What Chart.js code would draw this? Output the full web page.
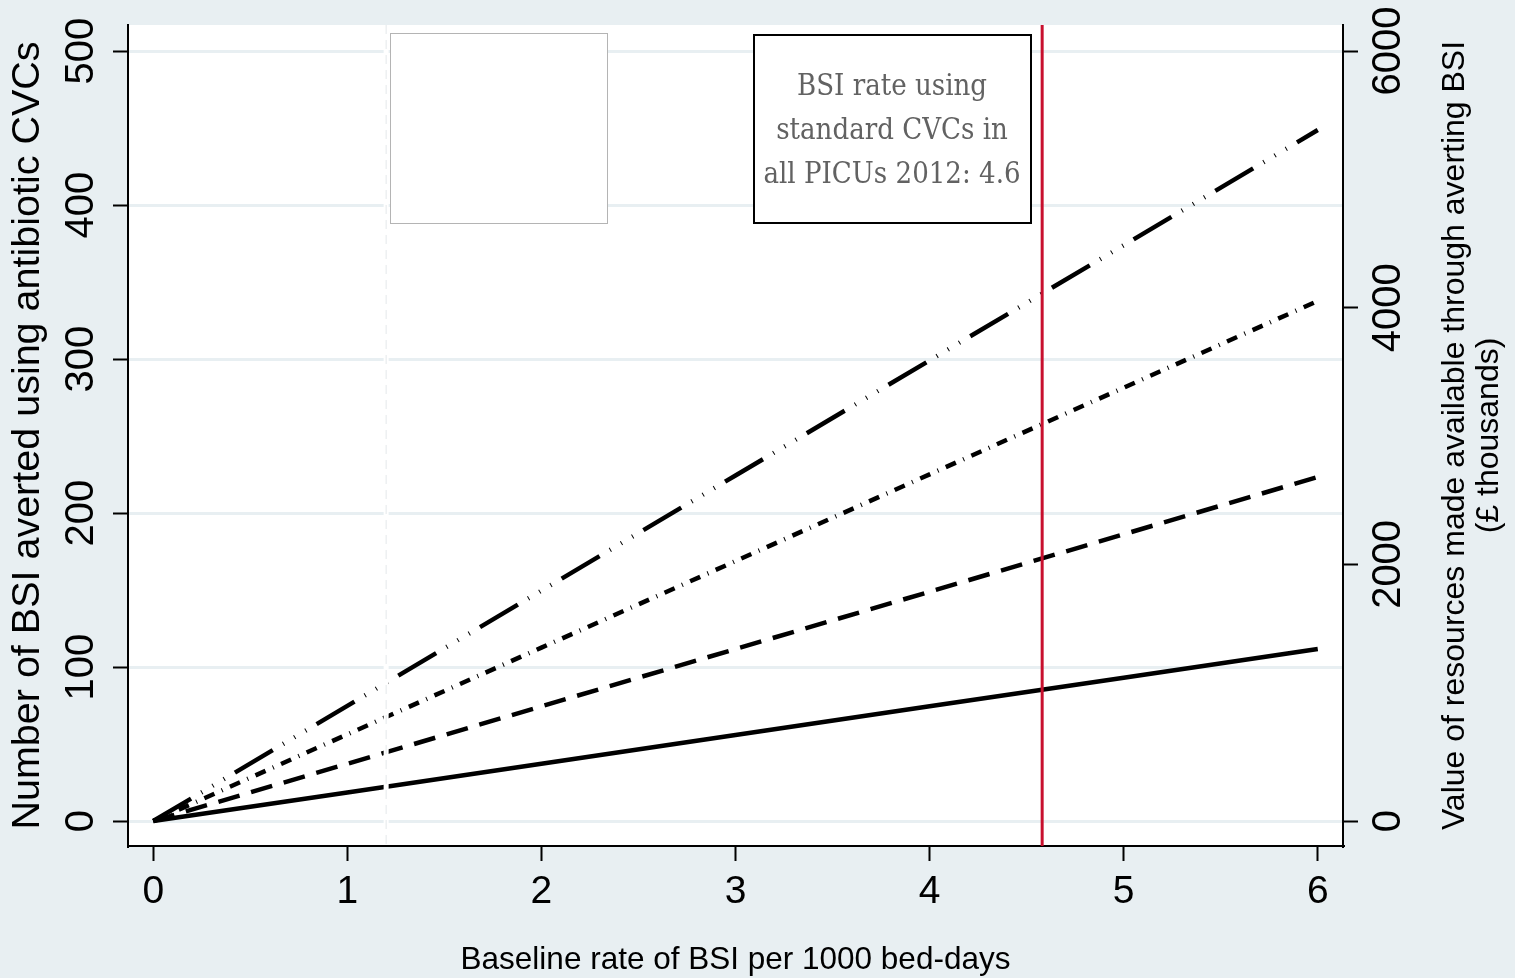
<!DOCTYPE html>
<html>
<head>
<meta charset="utf-8">
<script src="https://cdn.jsdelivr.net/npm/chart.js@4/dist/chart.umd.min.js"></script>
<style>
  body { margin: 0; background: #e8eff2; }
  canvas { display: block; }
</style>
</head>
<body>
<canvas id="bsiChart" width="1515" height="978"></canvas>
<script>
// values
const baselineRate = [0, 1, 2, 3, 4, 5, 6];
const avertedSolid = [0, 18.6, 37.2, 55.9, 74.5, 93.1, 111.7];
const avertedDash = [0, 37.2, 74.5, 111.7, 148.9, 186.2, 223.4];
const avertedDashDot = [0, 56.3, 112.6, 168.8, 225.1, 281.4, 337.7];
const avertedLongDash = [0, 74.8, 149.6, 224.4, 299.1, 373.9, 448.7];

const xTicks = [0, 1, 2, 3, 4, 5, 6];
const leftTicks = [0, 100, 200, 300, 400, 500];
const rightTicks = [0, 2000, 4000, 6000];

const picuRate = 4.58;  // red reference line (as drawn)
const hiddenRate = 1.2; // white (blanked) reference line

const xTitle = 'Baseline rate of BSI per 1000 bed-days';
const leftTitle = 'Number of BSI averted using antibiotic CVCs';
const rightTitle = ['Value of resources made available through averting BSI', '(£ thousands)'];
const noteLines = ['BSI rate using', 'standard CVCs in', 'all PICUs 2012: 4.6'];

const bgColor = '#e8eff2';
const sansFont = '"Liberation Sans", Arial, sans-serif';

function points(ys) {
    return baselineRate.map((x, i) => ({ x: x, y: ys[i] }));
}

function lineSet(ys, dash) {
    return {
        data: points(ys),
        borderColor: '#000',
        borderWidth: 4.5,
        borderDash: dash,
        borderCapStyle: 'butt',
        pointRadius: 0,
        fill: false,
        tension: 0
    };
}

const backdrop = {
    id: 'backdrop',
    beforeDraw(chart) {
        const { ctx, chartArea: a } = chart;
        ctx.save();
        ctx.fillStyle = bgColor;
        ctx.fillRect(0, 0, chart.width, chart.height);
        ctx.fillStyle = '#fff';
        ctx.fillRect(a.left, a.top, a.right - a.left, a.bottom - a.top);
        ctx.restore();
    }
};

const overlays = {
    id: 'overlays',
    afterDatasetsDraw(chart) {
        const { ctx, chartArea: a, scales } = chart;
        ctx.save();

        // blanked line
        const hx = scales.x.getPixelForValue(hiddenRate);
        ctx.strokeStyle = '#fff';
        ctx.lineWidth = 5;
        ctx.beginPath();
        ctx.moveTo(hx, a.top);
        ctx.lineTo(hx, a.bottom - 1);
        ctx.stroke();
        ctx.strokeStyle = '#e4e8ea';
        ctx.lineWidth = 1;
        ctx.setLineDash([9, 6]);
        ctx.beginPath();
        ctx.moveTo(hx, a.top);
        ctx.lineTo(hx, a.bottom - 1);
        ctx.stroke();
        ctx.setLineDash([]);

        // empty legend box
        ctx.fillStyle = '#fff';
        ctx.fillRect(390, 33, 218, 191);
        ctx.strokeStyle = '#b4b4b4';
        ctx.lineWidth = 1;
        ctx.strokeRect(390.5, 33.5, 217, 190);

        // red reference line
        const rx = scales.x.getPixelForValue(picuRate);
        ctx.strokeStyle = '#c8102e';
        ctx.lineWidth = 3;
        ctx.beginPath();
        ctx.moveTo(rx, a.top);
        ctx.lineTo(rx, a.bottom);
        ctx.stroke();

        // note box
        ctx.fillStyle = '#fff';
        ctx.fillRect(754, 35, 277, 188);
        ctx.strokeStyle = '#000';
        ctx.lineWidth = 2;
        ctx.strokeRect(754, 35, 277, 188);
        ctx.fillStyle = '#626262';
        ctx.font = '29px "DejaVu Serif", serif';
        ctx.textAlign = 'center';
        ctx.textBaseline = 'middle';
        noteLines.forEach((t, i) => {
            ctx.save();
            ctx.translate(892, 87 + i * 44);
            ctx.scale(0.9, 1);
            ctx.fillText(t, 0, 0);
            ctx.restore();
        });

        ctx.restore();
    },
    afterDraw(chart) {
        const { ctx, chartArea: a, scales } = chart;
        ctx.save();
        ctx.fillStyle = '#000';
        ctx.textAlign = 'center';
        ctx.textBaseline = 'middle';

        // x tick labels and title
        ctx.font = '39px ' + sansFont;
        xTicks.forEach(v => ctx.fillText(String(v), scales.x.getPixelForValue(v), 892));
        ctx.font = '31.5px ' + sansFont;
        ctx.fillText(xTitle, (a.left + a.right) / 2, 960);

        const midY = (a.top + a.bottom) / 2;
        const rotated = (text, x, y, font) => {
            ctx.save();
            ctx.translate(x, y);
            ctx.rotate(-Math.PI / 2);
            ctx.font = font;
            ctx.fillText(text, 0, 0);
            ctx.restore();
        };

        leftTicks.forEach(v => rotated(String(v), 82, scales.y.getPixelForValue(v), '40px ' + sansFont));
        rightTicks.forEach(v => rotated(String(v), 1389, scales.y2.getPixelForValue(v), '40px ' + sansFont));

        rotated(leftTitle, 28, midY, '39.5px ' + sansFont);
        rotated(rightTitle[0], 1455, midY, '32px ' + sansFont);
        rotated(rightTitle[1], 1489, midY, '32px ' + sansFont);

        ctx.restore();
    }
};

function axisGrid(onArea) {
    return {
        display: true,
        drawOnChartArea: onArea,
        color: bgColor,
        lineWidth: 3,
        drawTicks: true,
        tickLength: 15,
        tickColor: '#000',
        tickWidth: 2
    };
}

const chart = new Chart(document.getElementById('bsiChart'), {
    type: 'line',
    data: {
        datasets: [
            lineSet(avertedSolid, []),
            lineSet(avertedDash, [22, 12]),
            lineSet(avertedDashDot, [11, 8, 1, 8]),
            lineSet(avertedLongDash, [44, 12, 1, 12, 1, 12, 1, 12])
        ]
    },
    options: {
        responsive: false,
        animation: false,
        devicePixelRatio: 1,
        layout: { padding: { top: 25, left: 0, right: 0, bottom: 0 } },
        plugins: {
            legend: { display: false },
            tooltip: { enabled: false }
        },
        scales: {
            x: {
                type: 'linear',
                min: -0.13,
                max: 6.13,
                grid: axisGrid(false),
                border: { display: true, color: '#000', width: 2 },
                ticks: { display: false },
                afterBuildTicks: s => { s.ticks = xTicks.map(v => ({ value: v })); },
                afterFit: s => { s.height = 132; }
            },
            y: {
                type: 'linear',
                position: 'left',
                min: -16.2,
                max: 516.9,
                grid: axisGrid(true),
                border: { display: true, color: '#000', width: 2 },
                ticks: { display: false },
                afterBuildTicks: s => { s.ticks = leftTicks.map(v => ({ value: v })); },
                afterFit: s => { s.width = 128; }
            },
            y2: {
                type: 'linear',
                position: 'right',
                min: -194.4,
                max: 6202.8,
                grid: axisGrid(false),
                border: { display: true, color: '#000', width: 2 },
                ticks: { display: false },
                afterBuildTicks: s => { s.ticks = rightTicks.map(v => ({ value: v })); },
                afterFit: s => { s.width = 172; }
            }
        }
    },
    plugins: [backdrop, overlays]
});
</script>
</body>
</html>
